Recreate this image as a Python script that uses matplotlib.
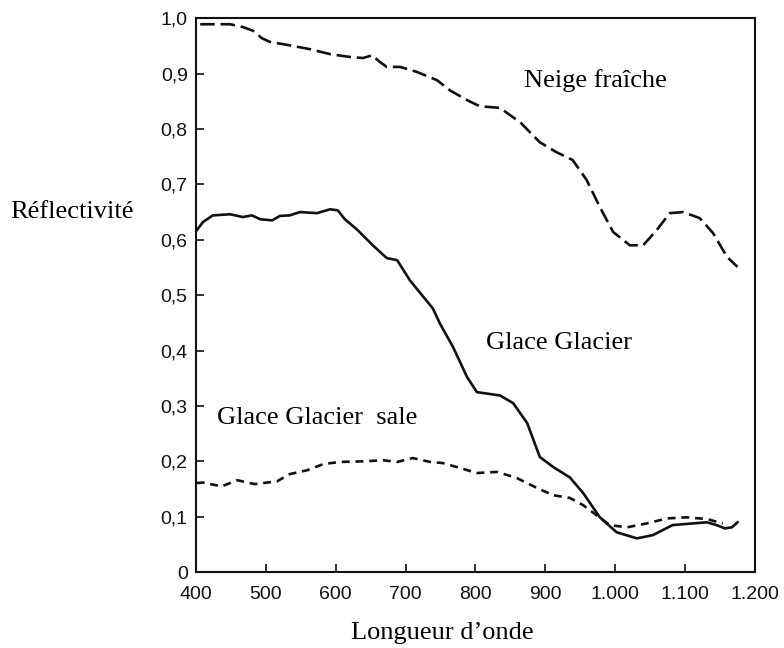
import numpy as np
import matplotlib.pyplot as plt
from matplotlib.ticker import FixedLocator

# Neige fraiche (dashed, long dashes)
neige_x = [406, 449, 467, 482, 494, 506, 534, 563, 592, 620, 639, 652, 663, 673, 692,
           716, 745, 763, 788, 806, 835, 864, 892, 916, 939, 959, 978, 997, 1021, 1040,
           1059, 1078, 1097, 1121, 1140, 1160, 1175]
neige_y = [0.989, 0.989, 0.984, 0.977, 0.964, 0.957, 0.951, 0.944, 0.935, 0.930, 0.928,
           0.933, 0.921, 0.912, 0.912, 0.903, 0.888, 0.870, 0.852, 0.841, 0.838, 0.812,
           0.776, 0.758, 0.744, 0.708, 0.659, 0.614, 0.590, 0.590, 0.617, 0.648, 0.650,
           0.639, 0.612, 0.569, 0.551]

# Glace glacier (solid)
glace_x = [401, 410, 424, 449, 467, 480, 492, 509, 520, 534, 549, 573, 592, 603, 613,
           630, 653, 673, 688, 706, 739, 749, 768, 788, 802, 835, 854, 874, 892, 911,
           935, 954, 978, 1002, 1031, 1054, 1082, 1111, 1131, 1145, 1157, 1167, 1175]
glace_y = [0.617, 0.632, 0.644, 0.646, 0.641, 0.644, 0.637, 0.635, 0.643, 0.644, 0.650,
           0.648, 0.655, 0.653, 0.637, 0.619, 0.590, 0.567, 0.563, 0.527, 0.476, 0.449,
           0.406, 0.352, 0.325, 0.319, 0.305, 0.269, 0.208, 0.190, 0.171, 0.143, 0.099,
           0.072, 0.061, 0.067, 0.085, 0.088, 0.090, 0.085, 0.079, 0.081, 0.090]

# Glace glacier sale (dashed, short dashes)
sale_x = [401, 413, 420, 437, 459, 484, 516, 534, 559, 582, 606, 639, 668, 688, 710,
          735, 753, 778, 802, 831, 859, 888, 911, 935, 954, 973, 992, 1017, 1045, 1074,
          1102, 1131, 1154]
sale_y = [0.161, 0.162, 0.159, 0.155, 0.166, 0.159, 0.164, 0.177, 0.184, 0.195, 0.199,
          0.200, 0.202, 0.199, 0.206, 0.199, 0.197, 0.188, 0.179, 0.181, 0.170, 0.152,
          0.139, 0.134, 0.121, 0.103, 0.085, 0.081, 0.088, 0.097, 0.099, 0.096, 0.088]

x_ticks = [400, 500, 600, 700, 800, 900, 1000, 1100, 1200]
x_labels = ['400', '500', '600', '700', '800', '900', '1.000', '1.100', '1.200']
y_ticks = [0, 0.1, 0.2, 0.3, 0.4, 0.5, 0.6, 0.7, 0.8, 0.9, 1.0]
y_labels = ['0', '0,1', '0,2', '0,3', '0,4', '0,5', '0,6', '0,7', '0,8', '0,9', '1,0']

ink = '#111111'
serif = 'Liberation Serif'
sans = 'Liberation Sans'

fig = plt.figure(figsize=(7.84, 6.48), dpi=100)
ax = fig.add_axes([0.250, 0.117, 0.713, 0.855])

ax.plot(neige_x, neige_y, color=ink, lw=1.9, dashes=(5.5, 2.2))
ax.plot(glace_x, glace_y, color=ink, lw=1.9)
ax.plot(sale_x, sale_y, color=ink, lw=1.9, dashes=(3, 2.2))

ax.set_xlim(400, 1200)
ax.set_ylim(0, 1.0)
ax.xaxis.set_major_locator(FixedLocator(x_ticks))
ax.yaxis.set_major_locator(FixedLocator(y_ticks))
ax.set_xticklabels(x_labels, family=sans, fontsize=14)
ax.set_yticklabels(y_labels, family=sans, fontsize=14)
ax.tick_params(direction='in', length=6, width=1.2, colors=ink)
ax.tick_params(axis='x', pad=10)
ax.tick_params(axis='y', pad=6)
for s in ax.spines.values():
    s.set_linewidth(1.5)
    s.set_color(ink)

fig.text(0.013, 0.673, 'Réflectivité', family=serif, fontsize=19, va='center', ha='left')
fig.text(0.564, 0.023, 'Longueur d\u2019onde', family=serif, fontsize=19, va='center', ha='center')
fig.text(0.759, 0.876, 'Neige fraîche', family=serif, fontsize=19, va='center', ha='center')
fig.text(0.713, 0.471, 'Glace Glacier', family=serif, fontsize=19, va='center', ha='center')
fig.text(0.277, 0.355, 'Glace Glacier  sale', family=serif, fontsize=19, va='center', ha='left')

plt.savefig('out.png', dpi=100)
